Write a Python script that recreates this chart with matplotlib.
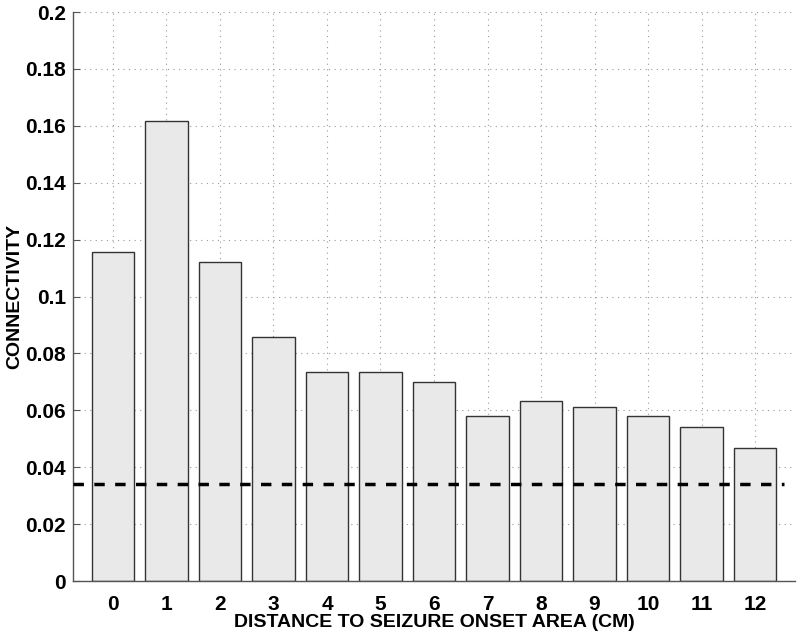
import matplotlib
matplotlib.use("Agg")
import matplotlib.pyplot as plt

# Data
distances = list(range(13))
connectivity = [0.1155, 0.1617, 0.1123, 0.0858, 0.0735, 0.0735, 0.0698,
                0.0580, 0.0632, 0.0612, 0.0581, 0.0543, 0.0469]
baseline = 0.0341
yticks = [0, 0.02, 0.04, 0.06, 0.08, 0.1, 0.12, 0.14, 0.16, 0.18, 0.2]
ytick_labels = ["0", "0.02", "0.04", "0.06", "0.08", "0.1", "0.12",
                "0.14", "0.16", "0.18", "0.2"]

plt.rcParams["font.family"] = ["Liberation Sans", "DejaVu Sans"]
plt.rcParams["font.weight"] = "bold"

fig = plt.figure(figsize=(8, 6.35), dpi=100)
ax = fig.add_axes([0.091, 0.085, 0.903, 0.896])

# Bars
ax.bar(distances, connectivity, width=0.8, color="#e9e9e9",
       edgecolor="#333333", linewidth=1.0, zorder=2)

# Dashed baseline
ax.plot([-0.75, 12.55], [baseline, baseline], color="black",
        linestyle=(0, (3, 3)), linewidth=2.5, zorder=3)

ax.set_xlim(-0.75, 12.75)
ax.set_ylim(0, 0.2)
ax.set_xticks(distances)
ax.set_yticks(yticks)
ax.set_yticklabels(ytick_labels)

# Grid
ax.grid(True, linestyle=(0, (1, 4)), color="#999999", linewidth=0.8, zorder=0)
ax.set_axisbelow(True)

# Spines (left and bottom only)
for side in ["top", "right"]:
    ax.spines[side].set_visible(False)
for side in ["left", "bottom"]:
    ax.spines[side].set_color("#555555")
    ax.spines[side].set_linewidth(1.0)

ax.tick_params(direction="in", length=5, color="#555555", labelsize=15)
ax.tick_params(axis="y", pad=5)
ax.tick_params(axis="x", pad=10)
for lab in ax.get_xticklabels() + ax.get_yticklabels():
    lab.set_fontweight("bold")

ax.set_xlabel("DISTANCE TO SEIZURE ONSET AREA (CM)", fontsize=14,
              fontweight="bold", labelpad=0)
ax.set_ylabel("CONNECTIVITY", fontsize=14, fontweight="bold", labelpad=1)

fig.savefig("out.png", dpi=100)
